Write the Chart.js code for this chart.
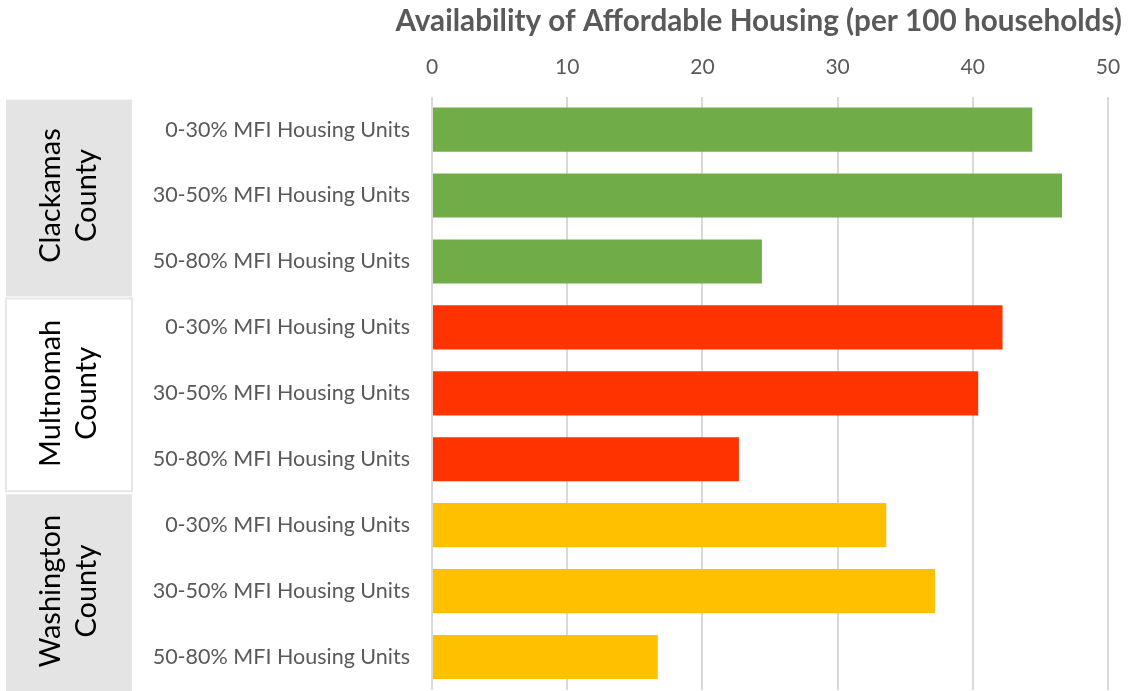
<!DOCTYPE html>
<html>
<head>
<meta charset="utf-8">
<script src="https://cdn.jsdelivr.net/npm/chart.js@4.4.1/dist/chart.umd.min.js"></script>
<style>
  html, body { margin: 0; padding: 0; background: #ffffff; }
  #wrap { width: 1131px; height: 691px; position: relative; }
</style>
</head>
<body>
<div id="wrap"><canvas id="c" width="1131" height="691"></canvas></div>
<script>
// ---- data ----
const counties = ['Clackamas County', 'Multnomah County', 'Washington County'];
const bands = ['0-30% MFI Housing Units', '30-50% MFI Housing Units', '50-80% MFI Housing Units'];
const clackamasValues = [44.4, 46.6, 24.4];
const multnomahValues = [42.2, 40.4, 22.7];
const washingtonValues = [33.6, 37.2, 16.7];
const countyColors = ['#70AD47', '#FF3300', '#FFC000'];
const xTicks = [0, 10, 20, 30, 40, 50];
const chartTitle = 'Availability of Affordable Housing (per 100 households)';

const seriesByCounty = [clackamasValues, multnomahValues, washingtonValues];
const labels = [];
const values = [];
const colors = [];
counties.forEach((c, gi) => {
  bands.forEach((b, bi) => {
    labels.push(b);
    values.push(seriesByCounty[gi][bi]);
    colors.push(countyColors[gi]);
  });
});

const FONT = "Lato, 'Open Sans', 'DejaVu Sans', sans-serif";
const TEXT = '#595959';

const groupPlugin = {
  id: 'groupBoxes',
  afterDraw(chart) {
    const ctx = chart.ctx;
    const y = chart.scales.y;
    const catH = (y.bottom - y.top) / labels.length;
    counties.forEach((name, gi) => {
      const top = y.getPixelForValue(gi * 3) - catH / 2;
      const bottom = y.getPixelForValue(gi * 3 + 2) + catH / 2;
      const x0 = 6, x1 = 132;
      ctx.save();
      if (gi === 1) {
        ctx.fillStyle = '#ffffff';
        ctx.fillRect(x0, top + 4, x1 - x0, bottom - top - 5);
        ctx.strokeStyle = '#e6e6e6';
        ctx.lineWidth = 2;
        ctx.strokeRect(x0, top + 4, x1 - x0, bottom - top - 5);
      } else {
        ctx.fillStyle = '#e4e4e4';
        ctx.fillRect(x0, top + (gi === 0 ? 3 : 2), x1 - x0, bottom - top - (gi === 0 ? 1 : 0));
      }
      const cx = (x0 + x1) / 2;
      const cy = (top + bottom) / 2;
      ctx.translate(cx, cy);
      ctx.rotate(-Math.PI / 2);
      ctx.fillStyle = '#000000';
      ctx.font = "29px " + FONT;
      ctx.textAlign = 'center';
      ctx.textBaseline = 'middle';
      const parts = name.split(' ');
      ctx.fillText(parts[0], 0, -18);
      ctx.fillText(parts[1], 0, 18);
      ctx.restore();
    });
  }
};

new Chart(document.getElementById('c'), {
  type: 'bar',
  data: {
    labels: labels,
    datasets: [{
      data: values,
      backgroundColor: colors,
      borderWidth: 0,
      categoryPercentage: 1.0,
      barPercentage: 0.67
    }]
  },
  options: {
    indexAxis: 'y',
    responsive: false,
    animation: false,
    devicePixelRatio: 1,
    layout: { padding: { left: 0, right: 9, top: 0, bottom: 1 } },
    plugins: {
      legend: { display: false },
      tooltip: { enabled: false },
      title: {
        display: true,
        text: chartTitle,
        align: 'end',
        color: TEXT,
        font: { family: FONT, size: 29.7, weight: 'bold' },
        padding: { top: 4, bottom: 0 }
      }
    },
    scales: {
      x: {
        position: 'top',
        min: 0,
        max: 50,
        afterBuildTicks(scale) { scale.ticks = xTicks.map(v => ({ value: v })); },
        afterFit(scale) { scale.height = 57; scale.paddingRight = 23; },
        grid: { color: '#d9d9d9', lineWidth: 2, drawTicks: false },
        border: { display: false },
        ticks: { color: TEXT, font: { family: FONT, size: 21 }, padding: 17 }
      },
      y: {
        afterFit(scale) { scale.width = 432; scale.paddingTop = 0; scale.paddingBottom = 0; },
        grid: { display: false, drawTicks: false },
        border: { display: false },
        ticks: { color: TEXT, font: { family: FONT, size: 21.5 }, padding: 22 }
      }
    }
  },
  plugins: [groupPlugin]
});
</script>
</body>
</html>
